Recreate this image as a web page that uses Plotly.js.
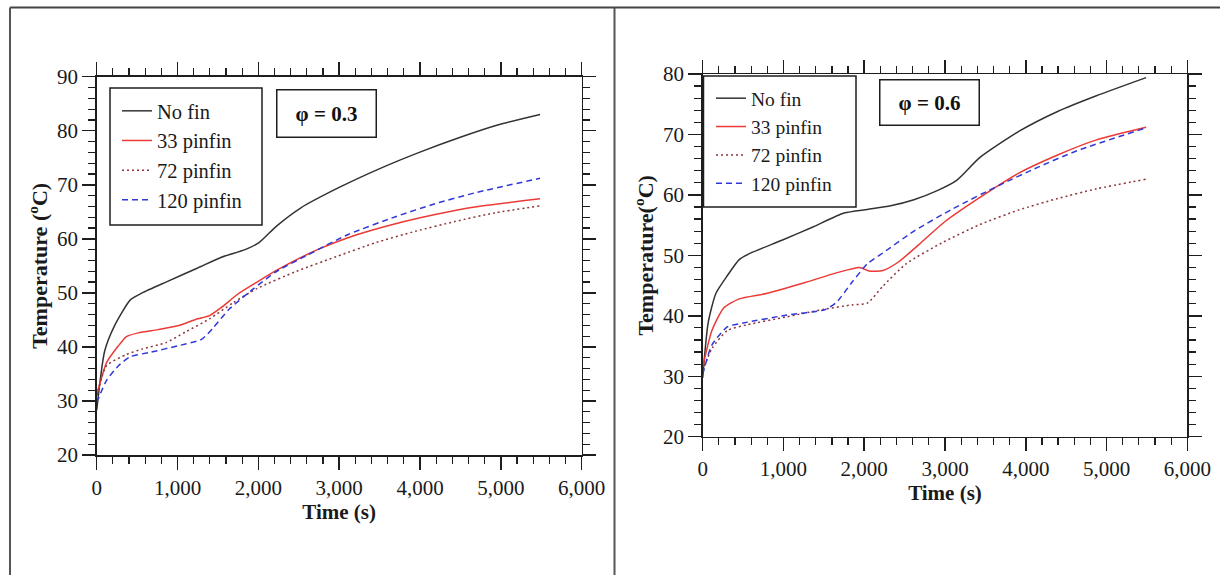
<!DOCTYPE html>
<html>
<head>
<meta charset="utf-8">
<script src="https://cdn.plot.ly/plotly-3.0.1.min.js"></script>
<style>html,body{margin:0;padding:0;background:#fff;}#chart{width:1220px;height:575px;}</style>
</head>
<body>
<div id="chart"></div>
<script>
// ---------- Data: phi = 0.3 (left panel) ----------
const seriesNames = ["No fin", "33 pinfin", "72 pinfin", "120 pinfin"];
const xTickVals = [0, 1000, 2000, 3000, 4000, 5000, 6000];

const a_nofin_t = [0, 98, 220, 416, 563, 857, 1249, 1543, 1836, 2008, 2228, 2522, 3012, 3502, 3991, 4481, 4970, 5485];
const a_nofin_T = [28.3, 39.2, 43.9, 48.7, 50.0, 52.0, 54.6, 56.6, 58.0, 59.3, 62.4, 65.7, 69.6, 73.0, 76.0, 78.7, 81.1, 83.0];

const a_p33_t = [0, 122, 269, 367, 514, 759, 1004, 1249, 1396, 1543, 1739, 1983, 2228, 2718, 3208, 3697, 4187, 4677, 5485];
const a_p33_T = [31.0, 37.1, 40.2, 41.9, 42.6, 43.2, 43.9, 45.2, 45.8, 47.3, 49.7, 52.0, 54.2, 57.9, 60.7, 62.8, 64.5, 65.9, 67.4];

const a_p72_t = [0, 122, 367, 563, 857, 1102, 1396, 1690, 1983, 2473, 2963, 3453, 3943, 4432, 4922, 5485];
const a_p72_T = [31.0, 36.5, 38.6, 39.6, 40.8, 42.8, 45.2, 48.2, 50.8, 54.0, 56.7, 59.3, 61.4, 63.2, 64.8, 66.1];

const a_p120_t = [0, 122, 269, 416, 661, 1004, 1298, 1445, 1640, 1934, 2228, 2620, 3110, 3697, 4187, 4677, 5485];
const a_p120_T = [29.7, 33.8, 36.5, 38.2, 39.0, 40.2, 41.4, 43.6, 47.0, 50.7, 54.0, 57.1, 60.8, 64.1, 66.5, 68.5, 71.2];

// ---------- Data: phi = 0.6 (right panel) ----------
const b_nofin_t = [0, 67, 163, 308, 452, 596, 981, 1365, 1750, 2038, 2327, 2615, 2904, 3144, 3433, 3913, 4394, 4875, 5490];
const b_nofin_T = [29.7, 38.8, 43.7, 46.7, 49.3, 50.4, 52.5, 54.7, 57.0, 57.6, 58.2, 59.2, 60.7, 62.4, 66.2, 70.5, 73.8, 76.4, 79.4];

const b_p33_t = [0, 115, 260, 452, 788, 1269, 1654, 1942, 2062, 2231, 2423, 2712, 3000, 3433, 3913, 4394, 4875, 5490];
const b_p33_T = [31.5, 37.6, 41.3, 42.8, 43.7, 45.5, 47.1, 48.0, 47.4, 47.5, 48.9, 52.2, 55.6, 59.6, 63.6, 66.6, 69.1, 71.2];

const b_p72_t = [0, 115, 308, 548, 1029, 1510, 1846, 2038, 2231, 2519, 2952, 3433, 3913, 4394, 4875, 5490];
const b_p72_T = [30.9, 34.6, 37.6, 38.5, 39.8, 41.1, 41.8, 42.1, 44.9, 48.6, 52.0, 55.1, 57.5, 59.4, 61.0, 62.6];

const b_p120_t = [0, 115, 308, 500, 1029, 1510, 1654, 1846, 2038, 2231, 2615, 3096, 3673, 4154, 4635, 5490];
const b_p120_T = [30.3, 35.2, 38.2, 38.8, 40.1, 41.0, 42.2, 45.5, 48.6, 50.4, 54.0, 57.7, 61.6, 64.6, 67.3, 71.1];

const panelLabels = ["φ = 0.3", "φ = 0.6"];
const yTitles = ["Temperature (<sup>o</sup>C)", "Temperature(<sup>o</sup>C)"];
const xTitle = "Time (s)";

// ---------- Styling ----------
const W = 1220, H = 575;
const SERIF = "Liberation Serif, Times New Roman, serif";
const styles = [
  {color: "#333333", dash: "solid"},
  {color: "#ec3a36", dash: "solid"},
  {color: "#8e3438", dash: "2px,3px"},
  {color: "#3038d8", dash: "6px,4px"}
];
const px = v => v / W;
const py = v => 1 - v / H;

function mk(t, T, i, xa, ya, leg) {
  return {
    x: t, y: T, type: "scatter", mode: "lines", name: seriesNames[i],
    xaxis: xa, yaxis: ya, legend: leg,
    line: {color: styles[i].color, dash: styles[i].dash, width: 1.5, shape: "spline", smoothing: 0.6},
    hoverinfo: "x+y"
  };
}

const data = [
  mk(a_nofin_t, a_nofin_T, 0, "x", "y", "legend"),
  mk(a_p33_t, a_p33_T, 1, "x", "y", "legend"),
  mk(a_p72_t, a_p72_T, 2, "x", "y", "legend"),
  mk(a_p120_t, a_p120_T, 3, "x", "y", "legend"),
  mk(b_nofin_t, b_nofin_T, 0, "x2", "y2", "legend2"),
  mk(b_p33_t, b_p33_T, 1, "x2", "y2", "legend2"),
  mk(b_p72_t, b_p72_T, 2, "x2", "y2", "legend2"),
  mk(b_p120_t, b_p120_T, 3, "x2", "y2", "legend2")
];

function xax(domain, anchor) {
  return {
    domain: domain, anchor: anchor, range: [0, 6000], tickvals: xTickVals, tickformat: ",",
    showgrid: false, zeroline: false, showline: true, linecolor: "#1e1e1e", linewidth: 1.5,
    mirror: "ticks", ticks: "outside", ticklen: 13, tickwidth: 1.5, tickcolor: "#1e1e1e",
    minor: {dtick: 200, ticklen: 7, tickwidth: 1.2, tickcolor: "#1e1e1e", ticks: "outside", showgrid: false},
    tickfont: {family: SERIF, size: 21, color: "#1a1a1a"},
    title: {text: xTitle, font: {family: SERIF, size: 21, color: "#1a1a1a", weight: "bold"}, standoff: 2}
  };
}
function yax(domain, anchor, range, title) {
  return {
    domain: domain, anchor: anchor, range: range, dtick: 10,
    showgrid: false, zeroline: false, showline: true, linecolor: "#1e1e1e", linewidth: 1.5,
    mirror: "ticks", ticks: "outside", ticklen: 13, tickwidth: 1.5, tickcolor: "#1e1e1e",
    minor: {dtick: 2, ticklen: 7, tickwidth: 1.2, tickcolor: "#1e1e1e", ticks: "outside", showgrid: false},
    tickfont: {family: SERIF, size: 21, color: "#1a1a1a"},
    title: {text: title, font: {family: SERIF, size: 22, color: "#1a1a1a", weight: "bold"}, standoff: 3}
  };
}

const legendBase = {
  xref: "paper", yref: "paper", xanchor: "left", yanchor: "top",
  bgcolor: "rgba(0,0,0,0)", bordercolor: "#1e1e1e", borderwidth: 0,
  font: {family: SERIF, size: 20.5, color: "#1a1a1a"}, tracegroupgap: 0, itemwidth: 30
};

const layout = {
  width: W, height: H, margin: {l: 0, r: 0, t: 0, b: 0},
  paper_bgcolor: "#ffffff", plot_bgcolor: "#ffffff", showlegend: true,
  separators: ".,",
  xaxis: xax([px(96.7), px(581.7)], "y"),
  yaxis: yax([py(455), py(76.7)], "x", [20, 90], yTitles[0]),
  xaxis2: xax([px(702.7), px(1187.3)], "y2"),
  yaxis2: yax([py(436.7), py(74)], "x2", [20, 80], yTitles[1]),
  legend: Object.assign({}, legendBase, {x: px(117), y: py(91)}),
  legend2: Object.assign({}, legendBase, {x: px(711), y: py(79), font: {family: SERIF, size: 19.5, color: "#1a1a1a"}}),
  annotations: [
    {xref: "paper", yref: "paper", x: px(326), y: py(113), xanchor: "center", yanchor: "middle",
     text: "<b>" + panelLabels[0] + "</b>", showarrow: false, font: {family: SERIF, size: 21, color: "#111"},
     bordercolor: "#1e1e1e", borderwidth: 1.5, width: 96, height: 44, bgcolor: "#fff"},
    {xref: "paper", yref: "paper", x: px(929), y: py(102), xanchor: "center", yanchor: "middle",
     text: "<b>" + panelLabels[1] + "</b>", showarrow: false, font: {family: SERIF, size: 21, color: "#111"},
     bordercolor: "#1e1e1e", borderwidth: 1.5, width: 96, height: 42, bgcolor: "#fff"}
  ],
  shapes: [
    {type: "rect", xref: "paper", yref: "paper", x0: px(110), x1: px(262), y0: py(225), y1: py(88),
     line: {color: "#1e1e1e", width: 1.5}, fillcolor: "#ffffff", layer: "above"},
    {type: "rect", xref: "paper", yref: "paper", x0: px(703.5), x1: px(856), y0: py(207), y1: py(76),
     line: {color: "#1e1e1e", width: 1.5}, fillcolor: "#ffffff", layer: "above"},
    {type: "line", xref: "paper", yref: "paper", x0: px(10), x1: 1, y0: py(7.5), y1: py(7.5), line: {color: "#444", width: 2}},
    {type: "line", xref: "paper", yref: "paper", x0: px(10), x1: px(10), y0: py(7.5), y1: 0, line: {color: "#555", width: 2}},
    {type: "line", xref: "paper", yref: "paper", x0: px(614.5), x1: px(614.5), y0: py(7.5), y1: 0, line: {color: "#555", width: 2}}
  ]
};

Plotly.newPlot("chart", data, layout, {displayModeBar: false, staticPlot: true});
</script>
</body>
</html>
